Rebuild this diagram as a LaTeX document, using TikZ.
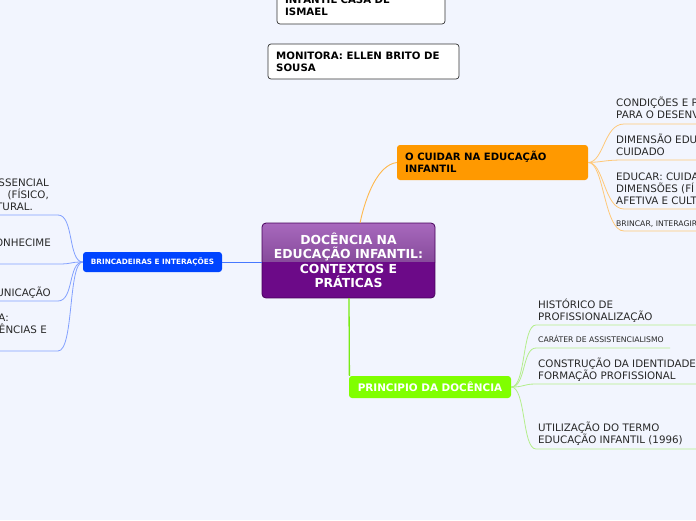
\documentclass[tikz,border=0pt]{standalone}
\usepackage{fontspec}
\setmainfont{DejaVu Sans}
\definecolor{bgc}{RGB}{242,245,254}
\definecolor{purpT}{RGB}{158,88,182}
\definecolor{purpB}{RGB}{108,10,136}
\definecolor{purpD}{RGB}{70,0,90}
\definecolor{orn}{RGB}{255,153,0}
\definecolor{ornL}{RGB}{255,200,120}
\definecolor{grn}{RGB}{128,255,0}
\definecolor{grnM}{RGB}{120,235,20}
\definecolor{grnL}{RGB}{180,238,140}
\definecolor{blu}{RGB}{0,68,255}
\definecolor{bluM}{RGB}{70,120,255}
\definecolor{bluL}{RGB}{130,160,255}
\definecolor{txt}{RGB}{40,40,40}
\begin{document}
\begin{tikzpicture}[x=1pt,y=-1pt,
  leaf/.style={font=\fontsize{10.3}{12}\selectfont, align=left, inner sep=0pt, anchor=base west, text=txt},
  leafr/.style={font=\fontsize{10.3}{12}\selectfont, align=right, inner sep=0pt, anchor=base east, text=txt},
  tiny/.style={font=\fontsize{7.7}{9}\selectfont, inner sep=0pt, anchor=base west, text=txt},
  infobox/.style={draw=black!80, fill=white, rounded corners=3pt, line width=0.7pt},
  infotext/.style={font=\bfseries\fontsize{10.2}{12}\selectfont, align=left, inner sep=0pt, anchor=base west},
  oline/.style={draw=ornL, line width=0.8pt},
  gline/.style={draw=grnL, line width=0.8pt},
  bline/.style={draw=bluL, line width=0.8pt}]
\useasboundingbox (0,0) rectangle (696,520);
\fill[bgc] (0,0) rectangle (696,520);
\clip (0,0) rectangle (696,520);

% info boxes
\draw[infobox] (277,-12) rectangle (445,24);
\node[infotext] (t1) at (285,15.7) {INFANTIL CASA DE\\ISMAEL};
\draw[infobox] (268,44) rectangle (459,79);
\node[infotext] (t2) at (276,71.7) {MONITORA: ELLEN BRITO DE\\SOUSA};

% central node
\begin{scope}
\clip[rounded corners=4pt] (262,223) rectangle (435,298);
\shade[top color=purpT!90!white, bottom color=purpT!85!black] (262,223) rectangle (435,262);
\fill[purpB] (262,262) rectangle (435,298);
\end{scope}
\draw[purpD, line width=0.8pt, rounded corners=4pt] (262,223) rectangle (435,298);
\node[font=\bfseries\fontsize{12.4}{14.5}\selectfont, text=white, align=center, inner sep=0pt] (center) at (348.5,260.5) {DOCÊNCIA NA\\EDUCAÇÃO INFANTIL:\\CONTEXTOS E\\PRÁTICAS};
\coordinate (cTop) at (360,223);
\coordinate (cBot) at (349,298);
\coordinate (cLeft) at (262,262);

% orange node
\node[fill=orn, rounded corners=3pt, minimum width=191pt, minimum height=35pt, inner sep=0pt] (orange) at (492.5,162.5) {};
\node[font=\bfseries\fontsize{10.1}{12}\selectfont, align=left, inner sep=0pt, anchor=base west] (orangeT) at (405,172.7) {O CUIDAR NA EDUCAÇÃO\\INFANTIL};
\draw[draw=orn!70!white, line width=0.9pt] (cTop) .. controls (366,195) and (378,165) .. (orange.west);

% green node
\node[fill=grn, rounded corners=3pt, minimum width=162pt, minimum height=22pt, inner sep=0pt, text=white, font=\bfseries\fontsize{10.4}{12}\selectfont] (green) at (430,387) {PRINCIPIO DA DOCÊNCIA};
\draw[draw=grnM, line width=1.3pt] (cBot) -- ([xshift=0.6pt]green.north west);

% blue node
\node[fill=blu, rounded corners=3pt, minimum width=139pt, minimum height=20pt, inner sep=0pt, text=white, font=\bfseries\fontsize{7.3}{9}\selectfont] (blue) at (152.5,262) {BRINCADEIRAS E INTERAÇÕES};
\draw[draw=bluM, line width=0.9pt] (blue.east) -- (cLeft);

% orange children
\node[leaf] (o1) at (616,118.7) {CONDIÇÕES E P\\PARA O DESENV};
\node[leaf] (o2) at (616,155.7) {DIMENSÃO EDU\\CUIDADO};
\node[leaf] (o3) at (616,204.7) {EDUCAR: CUIDA\\DIMENSÕES (FÍ\\AFETIVA E CULT};
\node[tiny] (o4) at (616,226.8) {BRINCAR, INTERAGIR};
\coordinate (oe1) at (700,124);
\coordinate (oe2) at (700,160);
\coordinate (oe3) at (700,209);
\coordinate (oe4) at (700,231);
\foreach \y/\e in {124/oe1,160/oe2,209/oe3,231/oe4}{
  \draw[oline] (orange.east) .. controls (604,162) and (604,\y) .. (624,\y) -- (\e);
}

% green children
\node[leaf] (g1) at (538,320.7) {HISTÓRICO DE\\PROFISSIONALIZAÇÃO};
\node[tiny] (g2) at (538,342.8) {CARÁTER DE ASSISTENCIALISMO};
\node[leaf] (g3) at (538,379.7) {CONSTRUÇÃO DA IDENTIDADE\\FORMAÇÃO PROFISSIONAL};
\node[leaf] (g4) at (538,443.7) {UTILIZAÇÃO DO TERMO\\EDUCAÇÃO INFANTIL (1996)};
\coordinate (ge1) at (700,325);
\coordinate (ge2) at (670,348);
\coordinate (ge3) at (700,384);
\coordinate (ge4) at (700,449);
\foreach \y/\e in {325/ge1,348/ge2,384/ge3,449/ge4}{
  \draw[gline] (green.east) .. controls (526,387) and (522,\y) .. (536,\y) -- (\e);
}

% blue children
\node[leafr] (b1) at (49,210.7) {SSENCIAL\\ (FÍSICO,\hspace*{2pt}\\TURAL.\hspace*{16pt}};
\node[leafr] (b2) at (51,246.7) {ONHECIME};
\node[leafr] (b3) at (51,296.7) {UNICAÇÃO};
\node[leafr] (b4) at (47,333.7) {A:\hspace*{38pt}\\ÊNCIAS E};
\coordinate (be1) at (-4,215);
\coordinate (be2) at (-4,264);
\coordinate (be3) at (-4,301);
\coordinate (be4) at (-4,351);
\foreach \y/\e in {215/be1,264/be2,301/be3,351/be4}{
  \draw[bline] (blue.west) .. controls (68,262) and (74,\y) .. (58,\y) -- (\e);
}
\end{tikzpicture}
\end{document}
